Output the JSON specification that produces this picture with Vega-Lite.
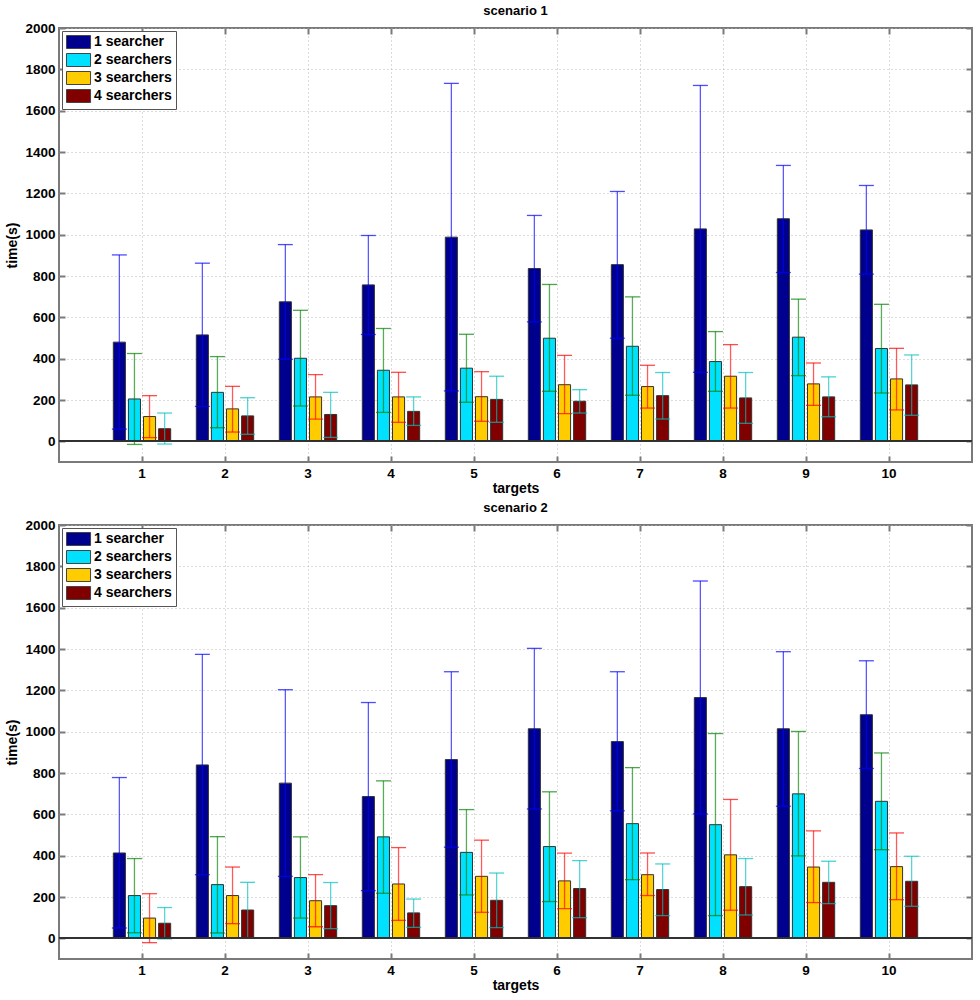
{
  "$schema": "https://vega.github.io/schema/vega-lite/v6.json",
  "description": "Grouped bars with error bars: time per number of targets, by number of searchers, two scenarios",
  "padding": {"left": 4, "top": 4, "right": 4, "bottom": 1},
  "datasets": {
    "runs": [
      {"scenario": "scenario 1", "target": 1, "searchers": "1 searcher", "time": 480, "low": 59, "high": 902},
      {"scenario": "scenario 1", "target": 1, "searchers": "2 searchers", "time": 205, "low": -15, "high": 425},
      {"scenario": "scenario 1", "target": 1, "searchers": "3 searchers", "time": 120, "low": 18, "high": 221},
      {"scenario": "scenario 1", "target": 1, "searchers": "4 searchers", "time": 61, "low": -13, "high": 137},
      {"scenario": "scenario 1", "target": 2, "searchers": "1 searcher", "time": 515, "low": 169, "high": 862},
      {"scenario": "scenario 1", "target": 2, "searchers": "2 searchers", "time": 237, "low": 66, "high": 410},
      {"scenario": "scenario 1", "target": 2, "searchers": "3 searchers", "time": 157, "low": 45, "high": 266},
      {"scenario": "scenario 1", "target": 2, "searchers": "4 searchers", "time": 123, "low": 34, "high": 211},
      {"scenario": "scenario 1", "target": 3, "searchers": "1 searcher", "time": 675, "low": 397, "high": 952},
      {"scenario": "scenario 1", "target": 3, "searchers": "2 searchers", "time": 402, "low": 171, "high": 634},
      {"scenario": "scenario 1", "target": 3, "searchers": "3 searchers", "time": 215, "low": 107, "high": 323},
      {"scenario": "scenario 1", "target": 3, "searchers": "4 searchers", "time": 130, "low": 19, "high": 237},
      {"scenario": "scenario 1", "target": 4, "searchers": "1 searcher", "time": 757, "low": 517, "high": 996},
      {"scenario": "scenario 1", "target": 4, "searchers": "2 searchers", "time": 344, "low": 140, "high": 546},
      {"scenario": "scenario 1", "target": 4, "searchers": "3 searchers", "time": 215, "low": 92, "high": 334},
      {"scenario": "scenario 1", "target": 4, "searchers": "4 searchers", "time": 145, "low": 77, "high": 215},
      {"scenario": "scenario 1", "target": 5, "searchers": "1 searcher", "time": 988, "low": 244, "high": 1732},
      {"scenario": "scenario 1", "target": 5, "searchers": "2 searchers", "time": 354, "low": 189, "high": 518},
      {"scenario": "scenario 1", "target": 5, "searchers": "3 searchers", "time": 216, "low": 97, "high": 337},
      {"scenario": "scenario 1", "target": 5, "searchers": "4 searchers", "time": 203, "low": 92, "high": 315},
      {"scenario": "scenario 1", "target": 6, "searchers": "1 searcher", "time": 836, "low": 578, "high": 1093},
      {"scenario": "scenario 1", "target": 6, "searchers": "2 searchers", "time": 499, "low": 242, "high": 759},
      {"scenario": "scenario 1", "target": 6, "searchers": "3 searchers", "time": 274, "low": 134, "high": 416},
      {"scenario": "scenario 1", "target": 6, "searchers": "4 searchers", "time": 194, "low": 137, "high": 250},
      {"scenario": "scenario 1", "target": 7, "searchers": "1 searcher", "time": 855, "low": 499, "high": 1209},
      {"scenario": "scenario 1", "target": 7, "searchers": "2 searchers", "time": 460, "low": 223, "high": 699},
      {"scenario": "scenario 1", "target": 7, "searchers": "3 searchers", "time": 265, "low": 161, "high": 368},
      {"scenario": "scenario 1", "target": 7, "searchers": "4 searchers", "time": 221, "low": 108, "high": 333},
      {"scenario": "scenario 1", "target": 8, "searchers": "1 searcher", "time": 1028, "low": 334, "high": 1722},
      {"scenario": "scenario 1", "target": 8, "searchers": "2 searchers", "time": 386, "low": 242, "high": 531},
      {"scenario": "scenario 1", "target": 8, "searchers": "3 searchers", "time": 315, "low": 161, "high": 468},
      {"scenario": "scenario 1", "target": 8, "searchers": "4 searchers", "time": 210, "low": 87, "high": 333},
      {"scenario": "scenario 1", "target": 9, "searchers": "1 searcher", "time": 1077, "low": 817, "high": 1335},
      {"scenario": "scenario 1", "target": 9, "searchers": "2 searchers", "time": 504, "low": 318, "high": 688},
      {"scenario": "scenario 1", "target": 9, "searchers": "3 searchers", "time": 278, "low": 174, "high": 379},
      {"scenario": "scenario 1", "target": 9, "searchers": "4 searchers", "time": 215, "low": 119, "high": 312},
      {"scenario": "scenario 1", "target": 10, "searchers": "1 searcher", "time": 1023, "low": 809, "high": 1238},
      {"scenario": "scenario 1", "target": 10, "searchers": "2 searchers", "time": 449, "low": 234, "high": 663},
      {"scenario": "scenario 1", "target": 10, "searchers": "3 searchers", "time": 302, "low": 152, "high": 450},
      {"scenario": "scenario 1", "target": 10, "searchers": "4 searchers", "time": 273, "low": 126, "high": 418},
      {"scenario": "scenario 2", "target": 1, "searchers": "1 searcher", "time": 413, "low": 50, "high": 778},
      {"scenario": "scenario 2", "target": 1, "searchers": "2 searchers", "time": 207, "low": 27, "high": 386},
      {"scenario": "scenario 2", "target": 1, "searchers": "3 searchers", "time": 98, "low": -21, "high": 216},
      {"scenario": "scenario 2", "target": 1, "searchers": "4 searchers", "time": 73, "low": -3, "high": 149},
      {"scenario": "scenario 2", "target": 2, "searchers": "1 searcher", "time": 839, "low": 308, "high": 1374},
      {"scenario": "scenario 2", "target": 2, "searchers": "2 searchers", "time": 260, "low": 26, "high": 492},
      {"scenario": "scenario 2", "target": 2, "searchers": "3 searchers", "time": 207, "low": 71, "high": 345},
      {"scenario": "scenario 2", "target": 2, "searchers": "4 searchers", "time": 137, "low": 3, "high": 271},
      {"scenario": "scenario 2", "target": 3, "searchers": "1 searcher", "time": 751, "low": 300, "high": 1203},
      {"scenario": "scenario 2", "target": 3, "searchers": "2 searchers", "time": 294, "low": 98, "high": 491},
      {"scenario": "scenario 2", "target": 3, "searchers": "3 searchers", "time": 182, "low": 56, "high": 308},
      {"scenario": "scenario 2", "target": 3, "searchers": "4 searchers", "time": 158, "low": 47, "high": 270},
      {"scenario": "scenario 2", "target": 4, "searchers": "1 searcher", "time": 686, "low": 231, "high": 1141},
      {"scenario": "scenario 2", "target": 4, "searchers": "2 searchers", "time": 491, "low": 218, "high": 762},
      {"scenario": "scenario 2", "target": 4, "searchers": "3 searchers", "time": 263, "low": 87, "high": 439},
      {"scenario": "scenario 2", "target": 4, "searchers": "4 searchers", "time": 123, "low": 53, "high": 190},
      {"scenario": "scenario 2", "target": 5, "searchers": "1 searcher", "time": 865, "low": 441, "high": 1290},
      {"scenario": "scenario 2", "target": 5, "searchers": "2 searchers", "time": 416, "low": 210, "high": 623},
      {"scenario": "scenario 2", "target": 5, "searchers": "3 searchers", "time": 300, "low": 126, "high": 475},
      {"scenario": "scenario 2", "target": 5, "searchers": "4 searchers", "time": 184, "low": 52, "high": 316},
      {"scenario": "scenario 2", "target": 6, "searchers": "1 searcher", "time": 1014, "low": 626, "high": 1403},
      {"scenario": "scenario 2", "target": 6, "searchers": "2 searchers", "time": 444, "low": 178, "high": 709},
      {"scenario": "scenario 2", "target": 6, "searchers": "3 searchers", "time": 278, "low": 144, "high": 412},
      {"scenario": "scenario 2", "target": 6, "searchers": "4 searchers", "time": 241, "low": 100, "high": 376},
      {"scenario": "scenario 2", "target": 7, "searchers": "1 searcher", "time": 952, "low": 617, "high": 1290},
      {"scenario": "scenario 2", "target": 7, "searchers": "2 searchers", "time": 555, "low": 284, "high": 826},
      {"scenario": "scenario 2", "target": 7, "searchers": "3 searchers", "time": 308, "low": 207, "high": 413},
      {"scenario": "scenario 2", "target": 7, "searchers": "4 searchers", "time": 236, "low": 110, "high": 360},
      {"scenario": "scenario 2", "target": 8, "searchers": "1 searcher", "time": 1165, "low": 602, "high": 1729},
      {"scenario": "scenario 2", "target": 8, "searchers": "2 searchers", "time": 550, "low": 110, "high": 991},
      {"scenario": "scenario 2", "target": 8, "searchers": "3 searchers", "time": 404, "low": 136, "high": 672},
      {"scenario": "scenario 2", "target": 8, "searchers": "4 searchers", "time": 250, "low": 113, "high": 386},
      {"scenario": "scenario 2", "target": 9, "searchers": "1 searcher", "time": 1014, "low": 639, "high": 1387},
      {"scenario": "scenario 2", "target": 9, "searchers": "2 searchers", "time": 699, "low": 399, "high": 1001},
      {"scenario": "scenario 2", "target": 9, "searchers": "3 searchers", "time": 345, "low": 173, "high": 520},
      {"scenario": "scenario 2", "target": 9, "searchers": "4 searchers", "time": 271, "low": 168, "high": 373},
      {"scenario": "scenario 2", "target": 10, "searchers": "1 searcher", "time": 1082, "low": 822, "high": 1343},
      {"scenario": "scenario 2", "target": 10, "searchers": "2 searchers", "time": 663, "low": 429, "high": 897},
      {"scenario": "scenario 2", "target": 10, "searchers": "3 searchers", "time": 347, "low": 187, "high": 510},
      {"scenario": "scenario 2", "target": 10, "searchers": "4 searchers", "time": 276, "low": 155, "high": 397}
    ]
  },
  "data": {"name": "runs"},
  "spacing": 4,
  "vconcat": [
    {
      "title": "scenario 1",
      "width": 913,
      "height": 434,
      "transform": [{"filter": "datum.scenario === 'scenario 1'"}],
      "layer": [
        {
          "mark": {"type": "bar", "stroke": "#333333", "strokeWidth": 1},
          "encoding": {
            "x": {"field": "target", "type": "ordinal", "title": "targets", "scale": {"paddingInner": 0, "paddingOuter": 0.5}, "axis": {"orient": "bottom"}},
            "xOffset": {"field": "searchers", "type": "nominal", "scale": {"paddingInner": 0.2, "paddingOuter": 0.85}},
            "y": {"field": "time", "type": "quantitative", "title": "time(s)", "scale": {"domain": [-100, 2000], "nice": false}, "axis": {"orient": "left"}},
            "fill": {"field": "searchers", "type": "nominal", "scale": {"range": ["#00008f", "#00e0ff", "#ffcc00", "#800000"]}}
          }
        },
        {
          "mark": {"type": "rule", "strokeWidth": 1.3, "opacity": 0.65},
          "encoding": {
            "x": {"field": "target", "type": "ordinal", "axis": {"orient": "top", "labels": false, "title": null, "grid": false}},
            "xOffset": {"field": "searchers", "type": "nominal"},
            "y": {"field": "low", "type": "quantitative", "axis": {"orient": "right", "labels": false, "title": null, "grid": false}},
            "y2": {"field": "high"},
            "stroke": {"field": "searchers", "type": "nominal", "legend": null, "scale": {"range": ["#0000ff", "#008000", "#ff0000", "#00bfbf"]}}
          }
        },
        {
          "mark": {"type": "tick", "size": 15, "thickness": 1.3, "opacity": 0.7},
          "encoding": {
            "x": {"field": "target", "type": "ordinal", "axis": null},
            "xOffset": {"field": "searchers", "type": "nominal"},
            "y": {"field": "low", "type": "quantitative", "axis": null},
            "color": {"field": "searchers", "type": "nominal", "legend": null, "scale": {"range": ["#0000ff", "#008000", "#ff0000", "#00bfbf"]}}
          }
        },
        {
          "mark": {"type": "tick", "size": 15, "thickness": 1.3, "opacity": 0.7},
          "encoding": {
            "x": {"field": "target", "type": "ordinal", "axis": null},
            "xOffset": {"field": "searchers", "type": "nominal"},
            "y": {"field": "high", "type": "quantitative", "axis": null},
            "color": {"field": "searchers", "type": "nominal", "legend": null, "scale": {"range": ["#0000ff", "#008000", "#ff0000", "#00bfbf"]}}
          }
        },
        {
          "mark": {"type": "rule", "color": "#333333", "strokeWidth": 1.2},
          "encoding": {"y": {"datum": 0, "axis": null}}
        }
      ],
      "resolve": {"scale": {"color": "independent"}, "axis": {"x": "independent", "y": "independent"}}
    },
    {
      "title": "scenario 2",
      "width": 913,
      "height": 434,
      "transform": [{"filter": "datum.scenario === 'scenario 2'"}],
      "layer": [
        {
          "mark": {"type": "bar", "stroke": "#333333", "strokeWidth": 1},
          "encoding": {
            "x": {"field": "target", "type": "ordinal", "title": "targets", "scale": {"paddingInner": 0, "paddingOuter": 0.5}, "axis": {"orient": "bottom"}},
            "xOffset": {"field": "searchers", "type": "nominal", "scale": {"paddingInner": 0.2, "paddingOuter": 0.85}},
            "y": {"field": "time", "type": "quantitative", "title": "time(s)", "scale": {"domain": [-100, 2000], "nice": false}, "axis": {"orient": "left"}},
            "fill": {"field": "searchers", "type": "nominal", "scale": {"range": ["#00008f", "#00e0ff", "#ffcc00", "#800000"]}}
          }
        },
        {
          "mark": {"type": "rule", "strokeWidth": 1.3, "opacity": 0.65},
          "encoding": {
            "x": {"field": "target", "type": "ordinal", "axis": {"orient": "top", "labels": false, "title": null, "grid": false}},
            "xOffset": {"field": "searchers", "type": "nominal"},
            "y": {"field": "low", "type": "quantitative", "axis": {"orient": "right", "labels": false, "title": null, "grid": false}},
            "y2": {"field": "high"},
            "stroke": {"field": "searchers", "type": "nominal", "legend": null, "scale": {"range": ["#0000ff", "#008000", "#ff0000", "#00bfbf"]}}
          }
        },
        {
          "mark": {"type": "tick", "size": 15, "thickness": 1.3, "opacity": 0.7},
          "encoding": {
            "x": {"field": "target", "type": "ordinal", "axis": null},
            "xOffset": {"field": "searchers", "type": "nominal"},
            "y": {"field": "low", "type": "quantitative", "axis": null},
            "color": {"field": "searchers", "type": "nominal", "legend": null, "scale": {"range": ["#0000ff", "#008000", "#ff0000", "#00bfbf"]}}
          }
        },
        {
          "mark": {"type": "tick", "size": 15, "thickness": 1.3, "opacity": 0.7},
          "encoding": {
            "x": {"field": "target", "type": "ordinal", "axis": null},
            "xOffset": {"field": "searchers", "type": "nominal"},
            "y": {"field": "high", "type": "quantitative", "axis": null},
            "color": {"field": "searchers", "type": "nominal", "legend": null, "scale": {"range": ["#0000ff", "#008000", "#ff0000", "#00bfbf"]}}
          }
        },
        {
          "mark": {"type": "rule", "color": "#333333", "strokeWidth": 1.2},
          "encoding": {"y": {"datum": 0, "axis": null}}
        }
      ],
      "resolve": {"scale": {"color": "independent"}, "axis": {"x": "independent", "y": "independent"}}
    }
  ],
  "resolve": {"scale": {"fill": "independent", "stroke": "independent", "color": "independent"}, "legend": {"fill": "independent"}},
  "config": {
    "font": "Liberation Sans",
    "view": {"stroke": "#7a7a7a", "strokeWidth": 2},
    "title": {"fontSize": 13, "fontWeight": "bold", "color": "#000000", "offset": 3},
    "axis": {
      "domain": false,
      "labelFontSize": 13.5,
      "labelFontWeight": "bold",
      "labelColor": "#000000",
      "titleFontSize": 14,
      "titleFontWeight": "bold",
      "titleColor": "#000000",
      "gridColor": "#b8b8b8",
      "gridDash": [1, 3],
      "gridWidth": 1,
      "tickColor": "#7a7a7a",
      "tickWidth": 2,
      "tickSize": -6,
      "labelPadding": 10
    },
    "axisX": {"labelAngle": 0, "titlePadding": 2, "grid": true, "bandPosition": 0.5},
    "axisY": {"values": [0, 200, 400, 600, 800, 1000, 1200, 1400, 1600, 1800, 2000], "format": "d", "titlePadding": 5},
    "legend": {
      "orient": "top-left",
      "offset": 3,
      "title": null,
      "strokeColor": "#555555",
      "fillColor": "#ffffff",
      "padding": 4,
      "symbolType": "M-1,-1H2.7V1H-1Z",
      "symbolSize": 169,
      "symbolStrokeColor": "#444444",
      "symbolStrokeWidth": 1,
      "symbolOpacity": 1,
      "labelFontSize": 14,
      "labelFontWeight": "bold",
      "labelColor": "#000000",
      "labelOffset": 14,
      "rowPadding": 0
    }
  }
}
